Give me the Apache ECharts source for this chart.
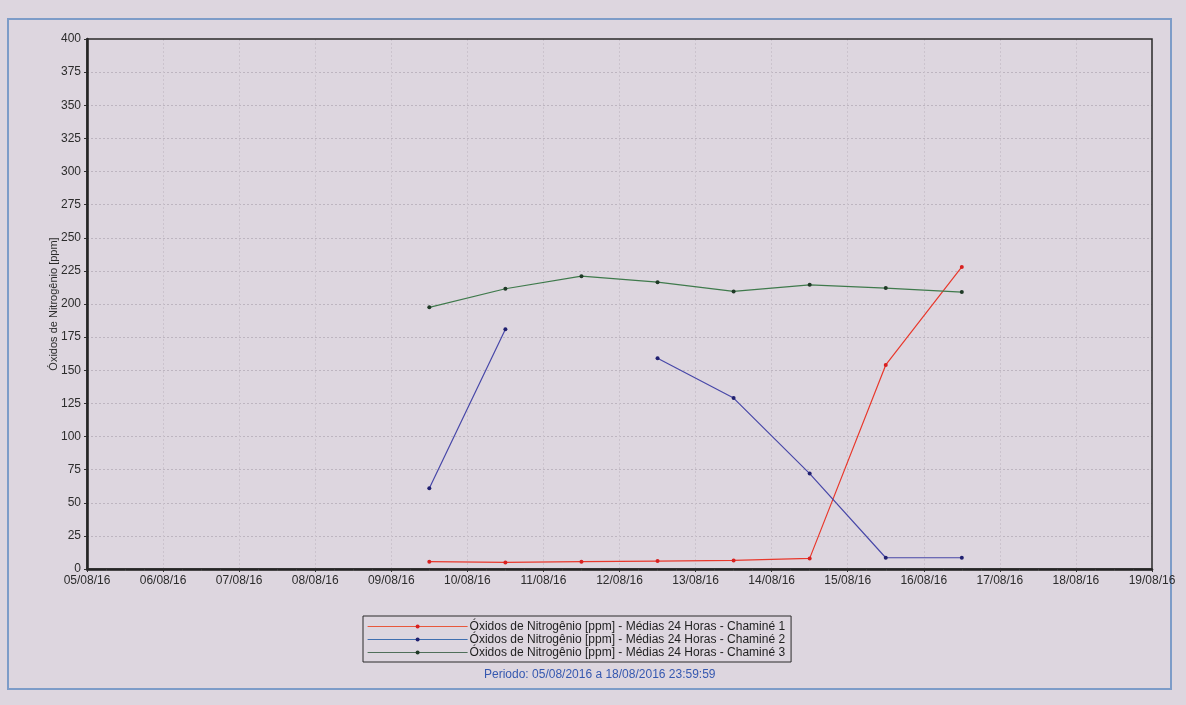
<!DOCTYPE html>
<html>
<head>
<meta charset="utf-8">
<script src="https://cdn.jsdelivr.net/npm/echarts@6/dist/echarts.min.js"></script>
<style>
  html, body { margin: 0; padding: 0; background: #ddd6df; }
  #chart { width: 1186px; height: 705px; }
</style>
</head>
<body>
<div id="chart"></div>
<script>
// Axis tick labels: one per day, 05/08/16 to 19/08/16
const tickLabels = ['05/08/16', '06/08/16', '07/08/16', '08/08/16', '09/08/16', '10/08/16', '11/08/16',
  '12/08/16', '13/08/16', '14/08/16', '15/08/16', '16/08/16', '17/08/16', '18/08/16', '19/08/16'];

// Days with a 24-hour mean (each mean is plotted at midday)
const sampleDays = ['09/08/16', '10/08/16', '11/08/16', '12/08/16', '13/08/16', '14/08/16', '15/08/16', '16/08/16'];

// 24-hour means of nitrogen oxides [ppm] per stack (null = no data)
const chamine1 = [5.5, 5, 5.5, 6, 6.5, 8, 154, 228];
const chamine2 = [61, 181, null, 159, 129, 72, 8.5, 8.5];
const chamine3 = [197.5, 211.5, 221, 216.5, 209.5, 214.5, 212, 209];

const seriesNames = [
  'Óxidos de Nitrogênio [ppm] - Médias 24 Horas - Chaminé 1',
  'Óxidos de Nitrogênio [ppm] - Médias 24 Horas - Chaminé 2',
  'Óxidos de Nitrogênio [ppm] - Médias 24 Horas - Chaminé 3'
];
const periodText = 'Periodo: 05/08/2016 a 18/08/2016 23:59:59';

// Day position on the x axis (0 = 05/08/16), shifted to midday
function toPoints(values) {
  return values.map((v, i) => [tickLabels.indexOf(sampleDays[i]) + 0.5, v === null ? '-' : v]);
}

const lineColors = ['#e8382c', '#4848a8', '#3f7a4c'];
const dotColors = ['#d82020', '#202070', '#1f3a26'];
const legendColors = ['#e8583c', '#3f6fb0', '#4f6f5a'];

function makeSeries(idx, values) {
  return {
    name: seriesNames[idx],
    type: 'line',
    data: toPoints(values),
    connectNulls: false,
    symbol: 'circle',
    symbolSize: 4,
    showSymbol: true,
    lineStyle: { color: lineColors[idx], width: 1.2 },
    itemStyle: { color: dotColors[idx], borderWidth: 0 },
    emphasis: { disabled: true },
    animation: false,
    z: 3 + idx
  };
}

const chart = echarts.init(document.getElementById('chart'), null, { renderer: 'canvas' });

const font = '"Liberation Sans", Arial, sans-serif';

chart.setOption({
  backgroundColor: '#ddd6df',
  animation: false,
  textStyle: { fontFamily: font },
  graphic: [
    {
      type: 'rect',
      shape: { x: 8, y: 19, width: 1163, height: 670 },
      style: { fill: 'none', stroke: '#7d9cc8', lineWidth: 2 },
      silent: true,
      z: 0
    },
    {
      type: 'text',
      left: 484,
      top: 669,
      style: {
        text: periodText,
        fill: '#3558b0',
        font: '12px ' + font
      },
      silent: true
    }
  ],
  grid: {
    left: 87, right: 34, top: 39, bottom: 136,
    show: true,
    borderColor: '#2a2a2a',
    borderWidth: 1.5,
    backgroundColor: 'transparent',
    z: 4
  },
  xAxis: {
    type: 'value',
    min: 0,
    max: tickLabels.length - 1,
    interval: 1,
    axisLine: { show: true, lineStyle: { color: '#1a1a1a', width: 2.5 } },
    axisTick: { show: true, length: 3, inside: false, lineStyle: { color: '#333' } },
    minorTick: { show: true, splitNumber: 4, length: 2, lineStyle: { color: '#555' } },
    splitLine: {
      show: true, showMinLine: false, showMaxLine: false,
      lineStyle: { color: '#cbc3cd', type: [2, 2], width: 1 }
    },
    axisLabel: {
      color: '#2c2c2c',
      fontSize: 12,
      margin: 6,
      formatter: v => tickLabels[Math.round(v)] || ''
    }
  },
  yAxis: {
    type: 'value',
    min: 0,
    max: 400,
    interval: 25,
    name: 'Óxidos de Nitrogênio [ppm]',
    nameLocation: 'middle',
    nameGap: 28,
    nameMoveOverlap: false,
    nameTextStyle: { color: '#2c2c2c', fontSize: 11 },
    axisLine: { show: true, lineStyle: { color: '#1a1a1a', width: 2.5 } },
    axisTick: { show: true, length: 3, lineStyle: { color: '#333' } },
    splitLine: {
      show: true, showMinLine: false, showMaxLine: false,
      lineStyle: { color: '#bdb5c0', type: [2, 2], width: 1 }
    },
    axisLabel: { color: '#2c2c2c', fontSize: 12, margin: 6 }
  },
  legend: {
    orient: 'vertical',
    left: 363,
    top: 616,
    itemWidth: 100,
    itemHeight: 5,
    itemGap: 0,
    padding: [4, 6, 3, 4],
    borderColor: '#2a2a2a',
    borderWidth: 1,
    backgroundColor: 'transparent',
    selectedMode: false,
    textStyle: { color: '#1f1f1f', fontSize: 12, lineHeight: 13, padding: [0, 0, 0, -3] },
    data: seriesNames.map((n, i) => ({
      name: n,
      itemStyle: { color: dotColors[i] },
      lineStyle: { color: legendColors[i], width: 1.2 }
    }))
  },
  series: [
    makeSeries(0, chamine1),
    makeSeries(1, chamine2),
    makeSeries(2, chamine3)
  ]
});
</script>
</body>
</html>
